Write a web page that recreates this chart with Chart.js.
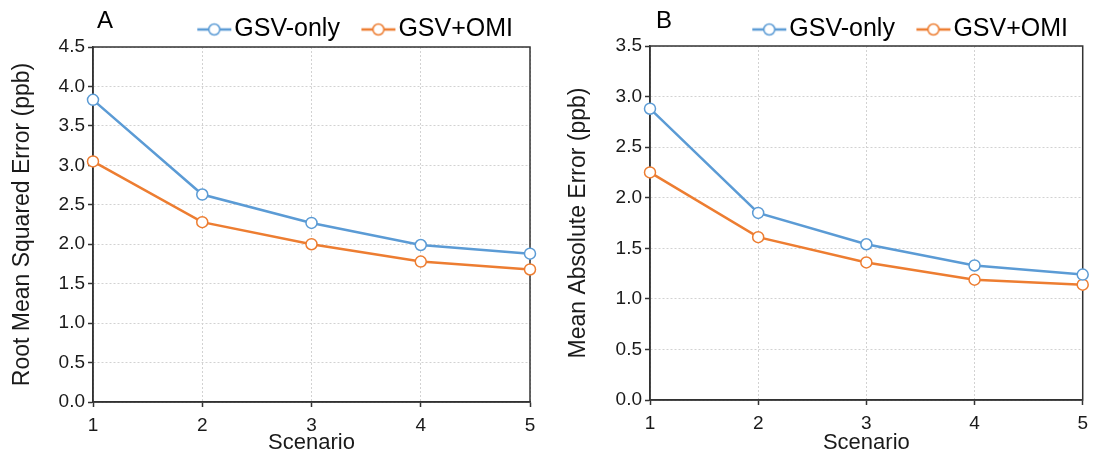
<!DOCTYPE html>
<html>
<head>
<meta charset="utf-8">
<script src="https://cdn.jsdelivr.net/npm/chart.js@4.4.1/dist/chart.umd.min.js"></script>
<style>
  html, body { margin: 0; padding: 0; background: #ffffff; }
  #wrap { position: relative; width: 1095px; height: 461px; overflow: hidden; }
  #cA { position: absolute; left: 0; top: 0; }
  #cB { position: absolute; left: 548px; top: 0; }
</style>
</head>
<body>
<div id="wrap">
  <canvas id="cA" width="548" height="461"></canvas>
  <canvas id="cB" width="547" height="461"></canvas>
</div>
<script>
// ---- data ----
const scenarios = ['1', '2', '3', '4', '5'];
const seriesNames = ['GSV-only', 'GSV+OMI'];
const rmseGsvOnly = [3.83, 2.63, 2.27, 1.99, 1.88];
const rmseGsvOmi  = [3.05, 2.28, 2.00, 1.78, 1.68];
const maeGsvOnly  = [2.88, 1.85, 1.54, 1.33, 1.24];
const maeGsvOmi   = [2.25, 1.61, 1.36, 1.19, 1.14];
const panelLetters = ['A', 'B'];
const yTitles = ['Root Mean Squared Error (ppb)', 'Mean Absolute Error (ppb)'];
const xTitle = 'Scenario';
const rmseTicks = [0, 4.5, 0.5];   // min, max, step
const maeTicks  = [0, 3.5, 0.5];

// ---- styles ----
const FONT = '"Liberation Sans", Arial, Helvetica, sans-serif';
const BLUE = '#5B9BD5';
const ORANGE = '#ED7D31';
const AXIS = '#333333';
const GRID = '#d2d2d2';
const TEXT = '#1a1a1a';

function legendMarker(color) {
  const c = document.createElement('canvas');
  c.width = 50; c.height = 16;
  const g = c.getContext('2d');
  g.strokeStyle = color;
  g.lineWidth = 2.5;
  g.beginPath(); g.moveTo(15, 8); g.lineTo(49, 8); g.stroke();
  g.beginPath(); g.arc(32, 8, 5.5, 0, Math.PI * 2);
  g.fillStyle = '#ffffff'; g.fill();
  g.lineWidth = 1.5; g.stroke();
  return c;
}
const markers = [legendMarker(BLUE), legendMarker(ORANGE)];

const boxPlugin = {
  id: 'plotBox',
  beforeDatasetsDraw(chart) {
    const a = chart.chartArea, ctx = chart.ctx;
    ctx.save();
    ctx.setLineDash([]);
    ctx.strokeStyle = AXIS;
    ctx.lineWidth = 1.5;
    ctx.strokeRect(a.left, a.top, a.right - a.left, a.bottom - a.top);
    ctx.restore();
  }
};
const letterPlugin = {
  id: 'panelLetter',
  afterDraw(chart, args, opts) {
    const ctx = chart.ctx;
    ctx.save();
    ctx.font = '24px ' + FONT;
    ctx.fillStyle = '#000';
    ctx.textBaseline = 'middle';
    ctx.textAlign = 'left';
    ctx.fillText(opts.text, opts.x, opts.y);
    ctx.restore();
  }
};
const legendHeightPlugin = {
  id: 'legendHeight',
  beforeLayout(chart, args, opts) {
    const lg = chart.legend;
    if (lg && !lg.__patched) {
      const f = lg.fit;
      lg.fit = function () { f.call(this); this.height = opts.h; };
      lg.__patched = true;
    }
  }
};

function makeChart(canvasId, cfg) {
  const datasets = [
    { label: seriesNames[0], data: cfg.s1, borderColor: BLUE },
    { label: seriesNames[1], data: cfg.s2, borderColor: ORANGE }
  ].map(d => Object.assign(d, {
    backgroundColor: '#ffffff',
    pointBackgroundColor: '#ffffff',
    pointBorderColor: d.borderColor,
    borderWidth: 2.5,
    pointRadius: 5.5,
    pointBorderWidth: 1.5,
    pointHoverRadius: 5.5,
    tension: 0,
    clip: false
  }));
  const gridOpts = {
    display: true,
    color: GRID,
    lineWidth: 1,
    borderDash: [2, 2],
    drawTicks: true,
    tickLength: 5,
    tickColor: AXIS,
    tickWidth: 1.5,
    tickBorderDash: []
  };
  const borderOpts = { display: true, color: AXIS, width: 1.5, dash: [2, 2] };
  return new Chart(document.getElementById(canvasId), {
    type: 'line',
    data: { labels: scenarios, datasets },
    plugins: [boxPlugin, letterPlugin, legendHeightPlugin],
    options: {
      responsive: false,
      animation: false,
      events: [],
      layout: { padding: { left: 0, right: cfg.padRight, top: 0, bottom: 0 } },
      plugins: {
        tooltip: { enabled: false },
        panelLetter: { text: cfg.letter, x: cfg.letterX, y: 21 },
        legendHeight: { h: cfg.top },
        legend: {
          display: true,
          position: 'top',
          align: 'end',
          labels: {
            usePointStyle: true,
            pointStyleWidth: 29,
            boxHeight: 16,
            padding: 17,
            color: '#000',
            font: { family: FONT, size: 25 },
            generateLabels(chart) {
              const items = Chart.defaults.plugins.legend.labels.generateLabels(chart);
              items.forEach((it, i) => { it.pointStyle = markers[i]; });
              return items;
            }
          }
        }
      },
      scales: {
        x: {
          type: 'category',
          offset: false,
          afterFit(s) { s.height = cfg.xAxisH; },
          border: borderOpts,
          grid: gridOpts,
          ticks: { color: TEXT, font: { family: FONT, size: 19 }, padding: 7, maxRotation: 0, autoSkip: false },
          title: {
            display: true, text: xTitle, color: TEXT,
            font: { family: FONT, size: 22 },
            padding: { top: 0, bottom: 5 }
          }
        },
        y: {
          type: 'linear',
          min: cfg.ticks[0],
          max: cfg.ticks[1],
          afterFit(s) { s.width = cfg.yAxisW; },
          border: borderOpts,
          grid: gridOpts,
          ticks: {
            stepSize: cfg.ticks[2],
            color: TEXT,
            font: { family: FONT, size: 19 },
            padding: 3,
            callback: v => Number(v).toFixed(1)
          },
          title: {
            display: true, text: cfg.yTitle, color: TEXT,
            font: { family: FONT, size: 23 },
            padding: { top: cfg.yTitlePad, bottom: 0 }
          }
        }
      }
    }
  });
}

makeChart('cA', {
  s1: rmseGsvOnly, s2: rmseGsvOmi, ticks: rmseTicks, yTitle: yTitles[0],
  letter: panelLetters[0], letterX: 97,
  top: 47, xAxisH: 59, yAxisW: 93, padRight: 18, yTitlePad: 9
});
makeChart('cB', {
  s1: maeGsvOnly, s2: maeGsvOmi, ticks: maeTicks, yTitle: yTitles[1],
  letter: panelLetters[1], letterX: 108,
  top: 46, xAxisH: 61, yAxisW: 102, padRight: 10, yTitlePad: 17
});
</script>
</body>
</html>
